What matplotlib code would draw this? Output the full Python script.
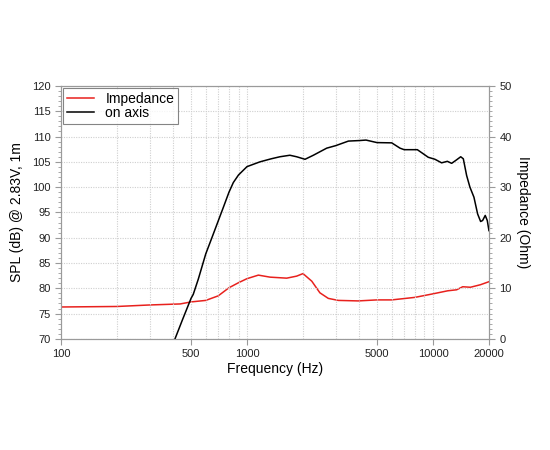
"""Loudspeaker on-axis SPL and impedance curve."""
import matplotlib

matplotlib.use("Agg")
import matplotlib.pyplot as plt
from matplotlib.ticker import FixedLocator, MultipleLocator, NullFormatter

plt.rcParams["font.family"] = ["Liberation Sans", "DejaVu Sans"]

# on-axis SPL (dB @ 2.83V, 1m)
spl_freq = [395, 410, 450, 500, 514, 547, 600, 646, 700, 746, 800, 844, 900, 1000, 1175, 1350,
            1503, 1700, 1849, 2051, 2274, 2682, 3000, 3510, 4000, 4365, 5000, 6000, 6650, 7000,
            8240, 8700, 9430, 10250, 11130, 11950, 12600, 13290, 14100, 14560, 15170, 15800,
            16610, 17380, 18040, 18490, 19100, 19590, 20000]
spl_db = [68.8, 70.0, 73.8, 78.0, 78.8, 81.8, 86.8, 89.9, 93.3, 96.0, 99.0, 100.9, 102.4,
          104.05, 105.0, 105.6, 106.0, 106.3, 106.0, 105.5, 106.3, 107.7, 108.2, 109.1, 109.2,
          109.3, 108.8, 108.75, 107.7, 107.4, 107.4, 106.8, 105.9, 105.5, 104.8, 105.1, 104.7,
          105.3, 106.0, 105.6, 102.3, 100.0, 98.0, 94.7, 93.2, 93.4, 94.4, 93.4, 91.4]

# impedance (Ohm), right axis
imp_freq = [100, 200, 300, 437, 500, 600, 700, 800, 900, 1000, 1151, 1330, 1635, 1849, 2000,
            2230, 2466, 2736, 3097, 3960, 5000, 6000, 8000, 10000, 12000, 13400, 14450, 15900,
            18000, 20000]
imp_ohm = [6.3, 6.4, 6.7, 6.9, 7.3, 7.6, 8.5, 10.1, 11.1, 11.9, 12.6, 12.2, 12.0, 12.4, 12.9,
           11.4, 9.1, 8.0, 7.6, 7.5, 7.7, 7.7, 8.2, 8.9, 9.5, 9.7, 10.3, 10.2, 10.7, 11.3]

freq_labels = [100, 500, 1000, 5000, 10000, 20000]
grid_freqs = [200, 300, 400, 500, 600, 700, 800, 900, 1000, 2000, 3000, 4000, 5000, 6000,
              7000, 8000, 9000, 10000]

fig = plt.figure(figsize=(5.5, 4.5), dpi=100)
ax = fig.add_axes([0.111, 0.247, 0.778, 0.562])
ax2 = ax.twinx()

ax.set_xscale("log")
ax.set_xlim(100, 20000)
ax.set_ylim(70, 120)
ax2.set_ylim(0, 50)

line_imp, = ax2.plot(imp_freq, imp_ohm, color="#e8211d", lw=1.1, label="Impedance")
line_spl, = ax.plot(spl_freq, spl_db, color="black", lw=1.1, label="on axis")
ax.set_zorder(ax2.get_zorder() + 1)
ax.patch.set_visible(False)

ax.xaxis.set_major_locator(FixedLocator(freq_labels))
ax.xaxis.set_minor_locator(FixedLocator([]))
ax.set_xticklabels([str(f) for f in freq_labels])
ax.xaxis.set_minor_formatter(NullFormatter())
for f in grid_freqs:
    ax.axvline(f, color="#cfcfcf", lw=0.8, ls=(0, (1, 1.2)), zorder=0)
ax.yaxis.set_major_locator(MultipleLocator(5))
ax.yaxis.set_minor_locator(MultipleLocator(1))
ax.grid(axis="y", color="#cfcfcf", lw=0.8, ls=(0, (1, 1.2)))
ax2.yaxis.set_major_locator(MultipleLocator(10))
ax2.yaxis.set_minor_locator(MultipleLocator(1))

for a in (ax, ax2):
    for s in a.spines.values():
        s.set_color("#9a9a9a")
    a.tick_params(which="both", colors="#9a9a9a", labelcolor="#222222", labelsize=8)
    a.tick_params(which="major", length=4)
    a.tick_params(which="minor", length=2)

ax.set_xlabel("Frequency (Hz)", fontsize=10, labelpad=2)
ax.set_ylabel("SPL (dB) @ 2.83V, 1m", fontsize=10, labelpad=6)
ax2.set_ylabel("Impedance (Ohm)", fontsize=10, rotation=270, labelpad=13)

leg = ax.legend(handles=[line_imp, line_spl], loc="upper left", fontsize=10, fancybox=False,
                borderaxespad=0.15, handlelength=2.0, borderpad=0.25, labelspacing=0.05,
                handletextpad=0.8)
leg.get_frame().set_edgecolor("#666666")
leg.get_frame().set_linewidth(0.8)

fig.savefig("out.png", dpi=100)
